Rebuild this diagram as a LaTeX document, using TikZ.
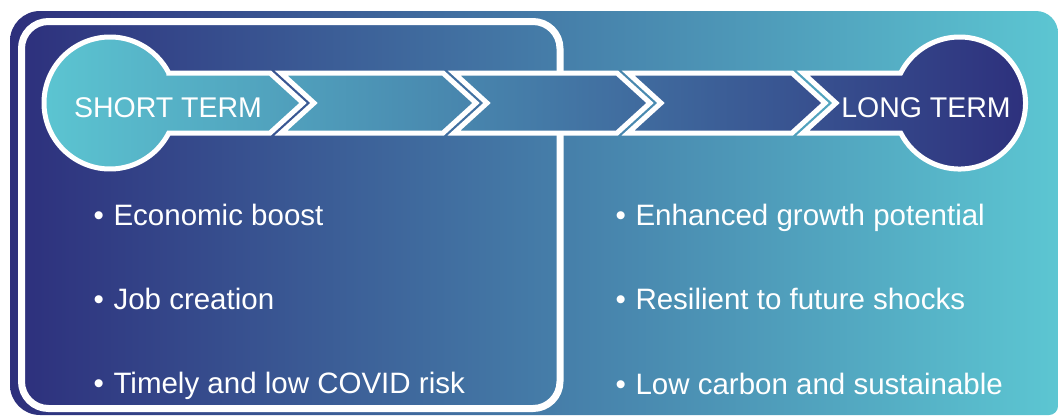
\documentclass[tikz,border=0pt]{standalone}
\usepackage{fontspec}
\setmainfont{Liberation Sans}
\definecolor{bgnavy}{HTML}{2D2F7C}
\definecolor{bgmid}{HTML}{3A76A2}
\definecolor{bgteal}{HTML}{5CC6D2}
\begin{document}
\begin{tikzpicture}[x=1pt,y=-1pt,
  title/.style={text=white, font=\fontsize{28.5}{34}\selectfont, inner sep=0pt, anchor=base},
  item/.style={text=white, font=\fontsize{29.5}{35}\selectfont, inner sep=0pt, anchor=base west},
  seg/.style={draw=white, line width=5pt, miter limit=10,
    path picture={\shade[left color=bgteal, middle color=bgmid, right color=bgnavy] (40,30) rectangle (1032,178);}},
  boxline/.style={draw=white, line width=7pt, rounded corners=27pt}]
\useasboundingbox (0,0) rectangle (1058,416);
% background panel
\shade[left color=bgnavy, middle color=bgmid, right color=bgteal]
  (10,41) arc[start angle=180, end angle=270, radius=30]
  -- (1036,11) arc[start angle=270, end angle=360, radius=22]
  -- (1058,406) arc[start angle=0, end angle=90, radius=9]
  -- (40,415) arc[start angle=90, end angle=180, radius=30] -- cycle;
% short-term frame
\path[boxline] (21.5,21.5) rectangle (560,408.5);
% timeline segments
\path[seg] (168.78,73) -- (270,73) -- (303,103) -- (270,133) -- (168.78,133)
  arc[start angle=27.04, end angle=332.96, radius=66] -- cycle;
\path[seg] (281,73) -- (443,73) -- (476,103) -- (443,133) -- (281,133) -- (314,103) -- cycle;
\path[seg] (454,73) -- (617,73) -- (650,103) -- (617,133) -- (454,133) -- (487,103) -- cycle;
\path[seg] (628,73) -- (792,73) -- (825,103) -- (792,133) -- (628,133) -- (661,103) -- cycle;
\path[seg] (803,73) -- (900.72,73)
  arc[start angle=207.04, end angle=512.96, radius=66] -- (803,133) -- (836,103) -- cycle;
% titles
\node[title] (st) at (168,117) {SHORT TERM};
\node[title] (lt) at (926,117) {LONG TERM};
% short-term items
\node[item] (s1) at (93.5,225) {•\kern9.5pt Economic boost};
\node[item] (s2) at (93.5,309.5) {•\kern9.5pt Job creation};
\node[item] (s3) at (93.5,393.5) {•\kern9.5pt Timely and low COVID risk};
% long-term items
\node[item] (l1) at (615.5,225.5) {•\kern9.5pt Enhanced growth potential};
\node[item] (l2) at (615.5,309.5) {•\kern9.5pt Resilient to future shocks};
\node[item] (l3) at (615.5,394) {•\kern9.5pt Low carbon and sustainable};
\end{tikzpicture}
\end{document}
